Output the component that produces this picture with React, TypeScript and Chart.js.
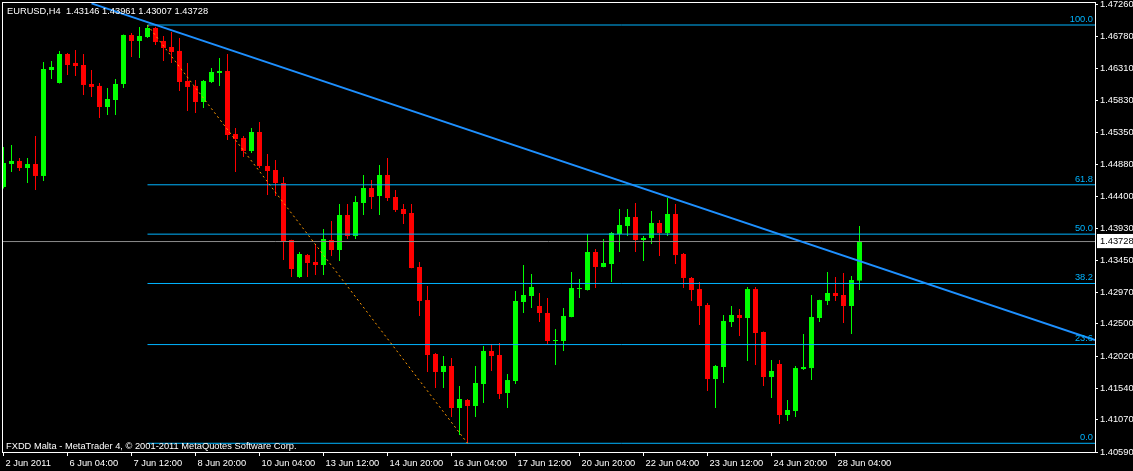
import React, { useEffect, useRef } from "react";
import { Chart, registerables } from "chart.js";

Chart.register(...registerables);

const TITLE = "EURUSD,H4  1.43146 1.43961 1.43007 1.43728";
const COPYRIGHT = "FXDD Malta - MetaTrader 4, © 2001-2011 MetaQuotes Software Corp.";

// H4 candles, index 0 = first visible bar
const opens = [
  1.44542, 1.44884, 1.44929, 1.44825, 1.44884, 1.44706, 1.46286, 1.46092, 1.46525, 1.46391,
  1.46361, 1.46077, 1.46048, 1.45734, 1.45839, 1.46077, 1.46808, 1.46719, 1.46778, 1.46912,
  1.46719, 1.46629, 1.4657, 1.46122, 1.46048, 1.45809, 1.46107, 1.46241, 1.46271, 1.45332,
  1.45272, 1.45078, 1.45362, 1.44855, 1.44795, 1.44601, 1.43751, 1.43199, 1.43527, 1.43423,
  1.43378, 1.43751, 1.43602, 1.44124, 1.43811, 1.44303, 1.44527, 1.44407, 1.4472, 1.44392,
  1.44213, 1.44154, 1.43349, 1.42856, 1.42051, 1.41783, 1.41872, 1.41246, 1.41365, 1.41276,
  1.41604, 1.42096, 1.42036, 1.4147, 1.41649, 1.42827, 1.42916, 1.42767, 1.42663, 1.42245,
  1.42245, 1.42603, 1.4302, 1.43006, 1.43572, 1.43349, 1.43393, 1.43841, 1.4396, 1.44094,
  1.43751, 1.43781, 1.44005, 1.43856, 1.44139, 1.43542, 1.43185, 1.4302, 1.42782, 1.41678,
  1.41857, 1.42528, 1.42633, 1.42588, 1.4302, 1.42379, 1.41708, 1.41902, 1.41142, 1.41201,
  1.41828, 1.41842, 1.42588, 1.42842, 1.42961, 1.42931, 1.42767, 1.43146,
];
const highs = [
  1.45138, 1.45168, 1.44974, 1.44974, 1.45302, 1.46406, 1.4642, 1.4657, 1.4654, 1.46584,
  1.46525, 1.46286, 1.46092, 1.46018, 1.46152, 1.46815, 1.46838, 1.46927, 1.46957, 1.4693,
  1.46793, 1.46853, 1.46763, 1.46391, 1.46137, 1.46137, 1.46316, 1.46465, 1.46525, 1.45421,
  1.45302, 1.45421, 1.45511, 1.45034, 1.44944, 1.44691, 1.43755, 1.43572, 1.43542, 1.43691,
  1.43915, 1.44034, 1.44288, 1.44288, 1.44407, 1.4472, 1.44646, 1.4487, 1.44974, 1.44497,
  1.44288, 1.44288, 1.43423, 1.43065, 1.42066, 1.42021, 1.41992, 1.41574, 1.4138, 1.41872,
  1.4217, 1.422, 1.42215, 1.41753, 1.42991, 1.43378, 1.43244, 1.42961, 1.42886, 1.42424,
  1.42737, 1.43274, 1.4317, 1.43841, 1.43617, 1.43766, 1.4387, 1.44213, 1.44213, 1.44303,
  1.43811, 1.44184, 1.44049, 1.44377, 1.44288, 1.43557, 1.43199, 1.43125, 1.42812, 1.41887,
  1.42633, 1.42767, 1.42722, 1.4305, 1.4305, 1.42385, 1.41962, 1.41962, 1.41365, 1.41872,
  1.42349, 1.42931, 1.4286, 1.43274, 1.43199, 1.43259, 1.43214, 1.43961,
];
const lows = [
  1.4452, 1.44765, 1.4478, 1.44601, 1.44497, 1.44631, 1.46152, 1.46085, 1.46212, 1.46197,
  1.45913, 1.45884, 1.4557, 1.45615, 1.45615, 1.46018, 1.4648, 1.46465, 1.46763, 1.46659,
  1.4642, 1.46391, 1.45973, 1.45675, 1.45645, 1.4572, 1.46092, 1.46048, 1.45242, 1.44765,
  1.44989, 1.45049, 1.44825, 1.44422, 1.44407, 1.43453, 1.43199, 1.43185, 1.43199, 1.43229,
  1.43229, 1.43512, 1.43438, 1.43766, 1.43766, 1.44124, 1.44213, 1.44124, 1.44333, 1.44169,
  1.4399, 1.4333, 1.42618, 1.41783, 1.41544, 1.41544, 1.41112, 1.40843, 1.4072, 1.41112,
  1.4132, 1.41798, 1.4138, 1.41246, 1.41604, 1.42663, 1.42737, 1.42528, 1.422, 1.41887,
  1.42096, 1.426, 1.42886, 1.43, 1.43035, 1.43345, 1.43125, 1.43572, 1.43811, 1.43572,
  1.43438, 1.43691, 1.43512, 1.43811, 1.43393, 1.43035, 1.42842, 1.42484, 1.41499, 1.41246,
  1.41619, 1.42454, 1.4232, 1.41947, 1.41887, 1.41574, 1.41395, 1.41007, 1.41052, 1.41112,
  1.41813, 1.41663, 1.42528, 1.42782, 1.42842, 1.42513, 1.42349, 1.43007,
];
const closes = [
  1.44899, 1.44929, 1.44825, 1.44884, 1.44706, 1.46301, 1.46331, 1.46525, 1.46361, 1.46346,
  1.46063, 1.46033, 1.45734, 1.45854, 1.46077, 1.46808, 1.46719, 1.46793, 1.46912, 1.46704,
  1.46614, 1.46555, 1.46107, 1.46033, 1.45809, 1.46122, 1.46256, 1.46271, 1.45317, 1.45257,
  1.45078, 1.45362, 1.44855, 1.4478, 1.44601, 1.43736, 1.43319, 1.43542, 1.43408, 1.43378,
  1.43766, 1.43602, 1.44124, 1.43811, 1.44318, 1.44527, 1.44392, 1.4472, 1.44377, 1.44199,
  1.44139, 1.43334, 1.42842, 1.42036, 1.41783, 1.41872, 1.41246, 1.4138, 1.41276, 1.41619,
  1.42096, 1.42021, 1.41455, 1.41663, 1.42842, 1.42931, 1.4305, 1.42663, 1.42245, 1.4226,
  1.42618, 1.43035, 1.43035, 1.43572, 1.43349, 1.43408, 1.43856, 1.43975, 1.44094, 1.43751,
  1.43781, 1.44005, 1.43856, 1.44139, 1.43527, 1.43185, 1.43006, 1.42767, 1.41678, 1.41872,
  1.42543, 1.42633, 1.42588, 1.4302, 1.42364, 1.41708, 1.41798, 1.41142, 1.41216, 1.41842,
  1.41857, 1.42603, 1.42856, 1.42961, 1.42916, 1.42767, 1.43155, 1.43728,
];

const xTickIndex = [0, 8, 16, 24, 32, 40, 48, 56, 64, 72, 80, 88, 96, 104];
const xTickLabels = [
  "2 Jun 2011", "6 Jun 04:00", "7 Jun 12:00", "8 Jun 20:00", "10 Jun 04:00", "13 Jun 12:00",
  "14 Jun 20:00", "16 Jun 04:00", "17 Jun 12:00", "20 Jun 20:00", "22 Jun 04:00",
  "23 Jun 12:00", "24 Jun 20:00", "28 Jun 04:00",
];
const yTickValues = [
  1.4726, 1.4678, 1.4631, 1.4583, 1.4535, 1.4488, 1.444, 1.4393, 1.4345, 1.4297, 1.425,
  1.4202, 1.4154, 1.4107, 1.4059,
];
const lastPrice = 1.43728;

// Fibonacci retracement anchors (bar index, price)
const fibHighIndex = 18;
const fibHigh = 1.46957;
const fibLowIndex = 58;
const fibLow = 1.4072;
const fibRatios = [1, 0.618, 0.5, 0.382, 0.236, 0];
const fibLabels = ["100.0", "61.8", "50.0", "38.2", "23.6", "0.0"];

// Trend line anchors (bar index, price)
const trendX = [11, 136.4375];
const trendY = [1.4728, 1.4226];

const X_MIN = -0.1875;
const X_MAX = 136.4375;
const Y_MIN = 1.4059;
const Y_MAX = 1.473;

const FONT_FAMILY = "'Liberation Sans', Arial, sans-serif";
const FONT_SIZE = 9.3;
const UP = "#00ff00";
const DOWN = "#ff0000";
const FIB_COLOR = "#00b4ff";

const isLast = (c: any) => c && c.tick && Math.abs(c.tick.value - lastPrice) < 1e-9;

const mt4Plugin = {
  id: "mt4Overlay",
  afterDatasetsDraw(chart: any) {
    const { ctx, chartArea, scales } = chart;
    ctx.save();
    ctx.font = `${FONT_SIZE}px ${FONT_FAMILY}`;
    ctx.fillStyle = FIB_COLOR;
    ctx.textAlign = "right";
    ctx.textBaseline = "bottom";
    fibRatios.forEach((r, k) => {
      const v = fibLow + r * (fibHigh - fibLow);
      const y = scales.y.getPixelForValue(v);
      ctx.fillText(fibLabels[k], chartArea.right - 2, y - 1);
    });
    ctx.fillStyle = "#ffffff";
    ctx.textAlign = "left";
    ctx.textBaseline = "alphabetic";
    ctx.fillText(TITLE, 7, 14);
    ctx.fillText(COPYRIGHT, 6, 449);
    ctx.strokeStyle = "#ffffff";
    ctx.lineWidth = 1;
    const l = Math.round(chartArea.left) + 0.5;
    const t = Math.round(chartArea.top) + 0.5;
    const r = Math.round(chartArea.right) + 0.5;
    const b = Math.round(chartArea.bottom) + 0.5;
    ctx.strokeRect(l, t, r - l, b - t);
    ctx.restore();
  },
};

export default function App() {
  const ref = useRef<HTMLCanvasElement>(null);

  useEffect(() => {
    document.body.style.margin = "0";
    document.body.style.background = "#000";
    const idx = opens.map((_, i) => i);
    const colors = idx.map((i) => (closes[i] >= opens[i] ? UP : DOWN));
    const font = { family: FONT_FAMILY, size: FONT_SIZE };

    const lineDs = (data: any[], color: string, width: number, dash: number[] = []) => ({
      type: "line",
      data,
      borderColor: color,
      borderWidth: width,
      borderDash: dash,
      pointRadius: 0,
      tension: 0,
      fill: false,
      order: 0,
    });

    const fibSets = fibRatios.map((r) => {
      const v = fibLow + r * (fibHigh - fibLow);
      return lineDs([{ x: fibHighIndex, y: v }, { x: X_MAX, y: v }], FIB_COLOR, 1);
    });

    const chart = new Chart(ref.current!, {
      type: "bar",
      data: {
        datasets: [
          lineDs(
            [{ x: trendX[0], y: trendY[0] }, { x: trendX[1], y: trendY[1] }],
            "#1e90ff",
            2
          ),
          lineDs(
            [{ x: fibHighIndex, y: fibHigh }, { x: fibLowIndex, y: fibLow }],
            "#ff9a00",
            1,
            [2, 3]
          ),
          ...fibSets,
          lineDs([{ x: X_MIN, y: lastPrice }, { x: X_MAX, y: lastPrice }], "#8c8c8c", 1),
          {
            type: "bar",
            data: idx.map((i) => ({ x: i, y: [opens[i], closes[i]] })),
            backgroundColor: colors,
            borderWidth: 0,
            barThickness: 5,
            minBarLength: 1,
            grouped: false,
            inflateAmount: 0,
            order: 1,
          },
          {
            type: "bar",
            data: idx.map((i) => ({ x: i, y: [lows[i], highs[i]] })),
            backgroundColor: colors,
            borderWidth: 0,
            barThickness: 1,
            grouped: false,
            inflateAmount: 0,
            order: 2,
          },
        ] as any,
      },
      options: {
        animation: false,
        responsive: false,
        devicePixelRatio: 1,
        events: [],
        layout: { padding: { left: 2, top: 2, right: 0, bottom: 0 } },
        plugins: { legend: { display: false }, tooltip: { enabled: false }, title: { display: false } },
        scales: {
          x: {
            type: "linear",
            min: X_MIN,
            max: X_MAX,
            offset: false,
            afterBuildTicks: (s: any) => {
              s.ticks = xTickIndex.map((v) => ({ value: v }));
            },
            afterFit: (s: any) => {
              s.height = 19;
              s.paddingLeft = 0;
              s.paddingRight = 0;
            },
            border: { display: false },
            grid: { drawOnChartArea: false, drawTicks: true, tickLength: 4, color: "#ffffff", offset: false },
            ticks: {
              color: "#ffffff",
              font,
              autoSkip: false,
              maxRotation: 0,
              minRotation: 0,
              align: "start",
              labelOffset: 2,
              padding: 2,
              callback: (_v: any, i: number) => xTickLabels[i],
            },
          },
          y: {
            type: "linear",
            position: "right",
            min: Y_MIN,
            max: Y_MAX,
            afterBuildTicks: (s: any) => {
              s.ticks = [...yTickValues, lastPrice].map((v) => ({ value: v }));
            },
            afterFit: (s: any) => {
              s.width = 38;
              s.paddingTop = 0;
              s.paddingBottom = 0;
            },
            border: { display: false },
            grid: {
              drawOnChartArea: false,
              drawTicks: true,
              tickLength: 3,
              color: (c: any) => (isLast(c) ? "rgba(0,0,0,0)" : "#ffffff"),
            },
            ticks: {
              font,
              autoSkip: false,
              padding: 2,
              crossAlign: "near",
              color: (c: any) => (isLast(c) ? "#000000" : "#ffffff"),
              showLabelBackdrop: (c: any) => isLast(c),
              backdropColor: "#ffffff",
              backdropPadding: { top: 2, bottom: 1, left: 3, right: 3 },
              callback: (v: any) => Number(v).toFixed(5),
            },
          },
        },
      } as any,
      plugins: [mt4Plugin],
    });
    return () => chart.destroy();
  }, []);

  return (
    <canvas
      ref={ref}
      width={1133}
      height={471}
      style={{ display: "block", background: "#000" }}
    />
  );
}
